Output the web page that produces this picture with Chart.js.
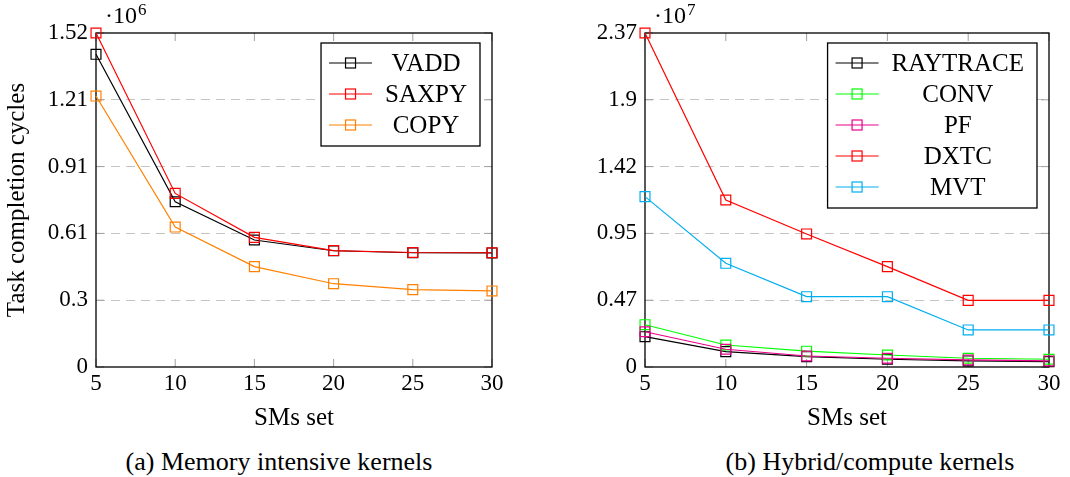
<!DOCTYPE html>
<html><head><meta charset="utf-8">
<script src="https://cdn.jsdelivr.net/npm/chart.js@4.4.0/dist/chart.umd.min.js"></script>
<style>
html,body{margin:0;padding:0;background:#fff;width:1070px;height:477px;overflow:hidden;}
#wrapL{position:absolute;left:0;top:0;width:540px;height:440px;}
#wrapR{position:absolute;left:540px;top:0;width:530px;height:440px;}
.cap{position:absolute;font-family:"Liberation Serif",serif;font-size:26px;line-height:30px;color:#000;white-space:nowrap;transform:translateX(-50%);}
</style></head><body>
<div id="wrapL"><canvas id="cL" width="540" height="440"></canvas></div>
<div id="wrapR"><canvas id="cR" width="530" height="440"></canvas></div>
<div class="cap" style="left:279px;top:447px">(a) Memory intensive kernels</div>
<div class="cap" style="left:870px;top:447px">(b) Hybrid/compute kernels</div>
<script>
// ---- data ----
const smsSet = [5, 10, 15, 20, 25, 30];
const vadd  = [1.423e6, 0.752e6, 0.578e6, 0.529e6, 0.520e6, 0.519e6];
const saxpy = [1.520e6, 0.790e6, 0.590e6, 0.530e6, 0.521e6, 0.520e6];
const copy  = [1.233e6, 0.637e6, 0.457e6, 0.379e6, 0.352e6, 0.346e6];

const raytrace = [0.215e7, 0.109e7, 0.073e7, 0.055e7, 0.043e7, 0.038e7];
const conv     = [0.300e7, 0.156e7, 0.112e7, 0.085e7, 0.062e7, 0.055e7];
const pf       = [0.250e7, 0.126e7, 0.078e7, 0.062e7, 0.050e7, 0.043e7];
const dxtc     = [2.370e7, 1.185e7, 0.944e7, 0.712e7, 0.473e7, 0.473e7];
const mvt      = [1.209e7, 0.736e7, 0.499e7, 0.499e7, 0.263e7, 0.263e7];

const xTicks = [5, 10, 15, 20, 25, 30];
const yTicksLeft = [0, 0.304e6, 0.608e6, 0.912e6, 1.216e6, 1.52e6];
const yTickLabelsLeft = ['0', '0.3', '0.61', '0.91', '1.21', '1.52'];
const yTicksRight = [0, 0.474e7, 0.948e7, 1.422e7, 1.896e7, 2.37e7];
const yTickLabelsRight = ['0', '0.47', '0.95', '1.42', '1.9', '2.37'];

const FONT = "'Liberation Serif','Times New Roman',serif";
const TXT = 25;   // text label size
const TCK = 23;   // tick label size
Chart.defaults.font.family = FONT;
Chart.defaults.color = '#000';

function mkDataset(label, values, color, idx, n) {
  return {
    label: label,
    data: smsSet.map((x, i) => ({x: x, y: values[i]})),
    borderColor: color,
    backgroundColor: 'rgba(0,0,0,0)',
    pointBorderColor: color,
    pointBackgroundColor: 'rgba(0,0,0,0)',
    borderWidth: 1.2,
    pointBorderWidth: 1.2,
    pointStyle: 'rect',
    pointRadius: 7,
    pointHoverRadius: 7,
    tension: 0,
    clip: false,
    order: n - idx
  };
}

function decorPlugin(expo) {
  return {
    id: 'decor',
    beforeDatasetsDraw(chart) {
      const {ctx, chartArea: a, scales: {x, y}} = chart;
      ctx.save();
      ctx.strokeStyle = '#a0a0a0';
      ctx.lineWidth = 1;
      ctx.beginPath();
      x.ticks.forEach(t => {
        const px = x.getPixelForValue(t.value);
        ctx.moveTo(px, a.bottom); ctx.lineTo(px, a.bottom - 8);
        ctx.moveTo(px, a.top); ctx.lineTo(px, a.top + 8);
      });
      y.ticks.forEach(t => {
        const py = y.getPixelForValue(t.value);
        ctx.moveTo(a.left, py); ctx.lineTo(a.left + 8, py);
        ctx.moveTo(a.right, py); ctx.lineTo(a.right - 8, py);
      });
      ctx.stroke();
      ctx.strokeStyle = '#000';
      ctx.lineWidth = 1.3;
      ctx.strokeRect(a.left, a.top, a.right - a.left, a.bottom - a.top);
      ctx.fillStyle = '#000';
      ctx.textBaseline = 'alphabetic';
      ctx.textAlign = 'left';
      ctx.font = '24px ' + FONT;
      const base = '\u00B710';
      ctx.fillText(base, a.left + 9, 23);
      const w = ctx.measureText(base).width;
      ctx.font = '17px ' + FONT;
      ctx.fillText(expo, a.left + 9 + w + 1, 15);
      ctx.restore();
    },
    afterDatasetsDraw(chart) {
      const {ctx, chartArea: a} = chart;
      const ds = chart.data.datasets;
      ctx.save();
      ctx.font = TXT + 'px ' + FONT;
      const maxW = Math.max(...ds.map(d => ctx.measureText(d.label).width));
      const padL = 8, lineW = 43, extra = 13, rowH = 31;
      const w = padL + lineW + maxW + 2 * extra;
      const h = 41 + rowH * (ds.length - 1);
      const right = a.right - 12, top = a.top + 10, left = right - w;
      ctx.fillStyle = '#fff';
      ctx.fillRect(left, top, w, h);
      ctx.strokeStyle = '#000';
      ctx.lineWidth = 1.3;
      ctx.strokeRect(left, top, w, h);
      ds.forEach((d, i) => {
        const cy = top + 20 + rowH * i;
        ctx.strokeStyle = d.borderColor;
        ctx.lineWidth = 1.2;
        ctx.beginPath();
        ctx.moveTo(left + padL, cy); ctx.lineTo(left + padL + lineW, cy);
        ctx.stroke();
        const mx = left + padL + lineW / 2;
        ctx.strokeRect(mx - 5, cy - 5, 10, 10);
        ctx.fillStyle = '#000';
        ctx.textAlign = 'center';
        ctx.textBaseline = 'middle';
        ctx.fillText(d.label, left + padL + lineW + extra + maxW / 2, cy + 1);
      });
      ctx.restore();
    }
  };
}

function mkOptions(yTicks, yLabels, yWidth, padRight, yTitle) {
  const last = yTicks.length - 1;
  return {
    responsive: false,
    animation: false,
    events: [],
    layout: {padding: {top: 33, right: padRight, left: 0, bottom: 0}},
    plugins: {legend: {display: false}, tooltip: {enabled: false}},
    scales: {
      x: {
        type: 'linear', min: xTicks[0], max: xTicks[xTicks.length - 1],
        afterBuildTicks: s => { s.ticks = xTicks.map(v => ({value: v})); },
        afterFit: s => { s.height = 73; },
        grid: {display: false, drawTicks: false},
        border: {display: false},
        ticks: {padding: 3, color: '#000', font: {size: TCK, family: FONT}, maxRotation: 0,
                callback: v => String(v)},
        title: {display: true, text: 'SMs set', color: '#000',
                font: {size: TXT, family: FONT, lineHeight: 1.2}, padding: {top: 0, bottom: 7}}
      },
      y: {
        type: 'linear', min: yTicks[0], max: yTicks[last],
        afterBuildTicks: s => { s.ticks = yTicks.map(v => ({value: v})); },
        afterFit: s => { s.width = yWidth; },
        grid: {drawTicks: false, lineWidth: 1,
               color: c => (c.index === 0 || c.index === last) ? 'rgba(0,0,0,0)' : '#c4c4c4'},
        border: {display: false, dash: [9, 6]},
        ticks: {padding: 8, color: '#000', font: {size: TCK, family: FONT},
                callback: (v, i) => yLabels[i]},
        title: {display: !!yTitle, text: yTitle || '', color: '#000',
                font: {size: TXT, family: FONT, lineHeight: 1.2}, padding: {top: 2, bottom: 0}}
      }
    }
  };
}

new Chart(document.getElementById('cL'), {
  type: 'line',
  data: {datasets: [
    mkDataset('VADD', vadd, '#000000', 0, 3),
    mkDataset('SAXPY', saxpy, '#ff0000', 1, 3),
    mkDataset('COPY', copy, '#ff8000', 2, 3)
  ]},
  options: mkOptions(yTicksLeft, yTickLabelsLeft, 96, 48, 'Task completion cycles'),
  plugins: [decorPlugin('6')]
});

new Chart(document.getElementById('cR'), {
  type: 'line',
  data: {datasets: [
    mkDataset('RAYTRACE', raytrace, '#000000', 0, 5),
    mkDataset('CONV', conv, '#00ff00', 1, 5),
    mkDataset('PF', pf, '#ec008c', 2, 5),
    mkDataset('DXTC', dxtc, '#ff0000', 3, 5),
    mkDataset('MVT', mvt, '#00aeef', 4, 5)
  ]},
  options: mkOptions(yTicksRight, yTickLabelsRight, 105, 21, ''),
  plugins: [decorPlugin('7')]
});
</script>
</body></html>
